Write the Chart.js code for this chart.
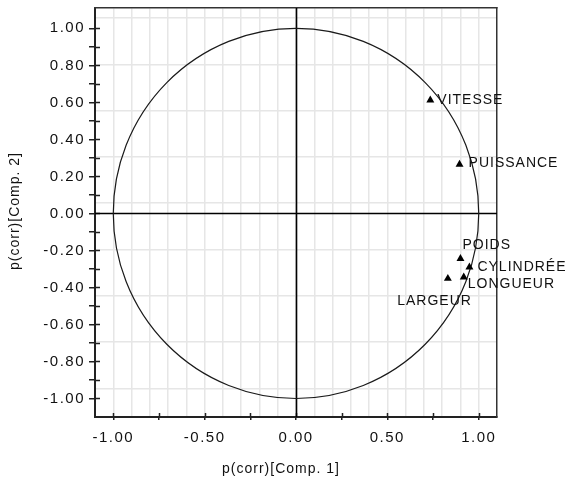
<!DOCTYPE html>
<html>
<head>
<meta charset="utf-8">
<script src="https://cdn.jsdelivr.net/npm/chart.js@4/dist/chart.umd.min.js"></script>
<style>
  html, body { margin: 0; padding: 0; background: #fff; }
  #wrap { width: 570px; height: 484px; }
</style>
</head>
<body>
<div id="wrap"><canvas id="c" width="570" height="484"></canvas></div>
<script>
// Loadings of each variable on the first two components
const variables = ['VITESSE', 'PUISSANCE', 'POIDS', 'CYLINDRÉE', 'LONGUEUR', 'LARGEUR'];
const comp1 = [0.735, 0.895, 0.900, 0.949, 0.918, 0.831];
const comp2 = [0.612, 0.265, -0.244, -0.290, -0.344, -0.352];

// Axis ticks (every tick gets a mark, labelled ones get text)
const xTickValues = [-1, -0.75, -0.5, -0.25, 0, 0.25, 0.5, 0.75, 1];
const xTickLabels = ['-1.00', '', '-0.50', '', '0.00', '', '0.50', '', '1.00'];
const yTickValues = [-1, -0.9, -0.8, -0.7, -0.6, -0.5, -0.4, -0.3, -0.2, -0.1, 0,
                     0.1, 0.2, 0.3, 0.4, 0.5, 0.6, 0.7, 0.8, 0.9, 1];
const yTickLabels = ['-1.00', '', '-0.80', '', '-0.60', '', '-0.40', '', '-0.20', '', '0.00',
                     '', '0.20', '', '0.40', '', '0.60', '', '0.80', '', '1.00'];

// Background grid lines
const gridXValues = [-1, -0.9, -0.8, -0.7, -0.6, -0.5, -0.4, -0.3, -0.2, -0.1, 0,
                     0.1, 0.2, 0.3, 0.4, 0.5, 0.6, 0.7, 0.8, 0.9, 1];
const gridYValues = [1.055, 0.805, 0.555, 0.305, 0.055, -0.195, -0.445, -0.695, -0.945];

const xTitle = 'p(corr)[Comp. 1]';
const yTitle = 'p(corr)[Comp. 2]';

const FONT = '"Liberation Sans", Arial, sans-serif';
const INK = '#111';

const labelFor = (values, labels) => v => {
  const i = values.findIndex(t => Math.abs(t - v) < 1e-9);
  return i >= 0 ? labels[i] : '';
};

const noPadding = s => {
  s.paddingTop = 0; s.paddingBottom = 0; s.paddingLeft = 0; s.paddingRight = 0;
};

// Dark frame, zero axes and the unit correlation circle
const framePlugin = {
  id: 'frame',
  beforeDraw(chart) {
    chart.ctx.letterSpacing = '1.5px';
  },
  beforeDatasetsDraw(chart) {
    const { ctx, chartArea: a, scales: { x, y } } = chart;
    const x0 = x.getPixelForValue(0), y0 = y.getPixelForValue(0);
    ctx.save();
    // inner halves of the tick marks
    ctx.strokeStyle = '#222';
    ctx.lineWidth = 1.5;
    ctx.beginPath();
    xTickValues.forEach(v => {
      const px = Math.round(x.getPixelForValue(v)) + 0.5;
      ctx.moveTo(px, a.bottom); ctx.lineTo(px, a.bottom - 4);
    });
    yTickValues.forEach(v => {
      const py = Math.round(y.getPixelForValue(v)) + 0.5;
      ctx.moveTo(a.left, py); ctx.lineTo(a.left + 5, py);
    });
    ctx.stroke();
    // zero axes
    ctx.strokeStyle = '#000';
    ctx.lineWidth = 1.6;
    ctx.beginPath();
    ctx.moveTo(Math.round(x0) + 0.5, a.top); ctx.lineTo(Math.round(x0) + 0.5, a.bottom);
    ctx.moveTo(a.left, Math.round(y0) + 0.5); ctx.lineTo(a.right, Math.round(y0) + 0.5);
    ctx.stroke();
    // circle of radius 1
    const rx = x.getPixelForValue(1) - x0;
    const ry = y0 - y.getPixelForValue(1);
    ctx.strokeStyle = '#1a1a1a';
    ctx.lineWidth = 1.2;
    ctx.beginPath();
    ctx.ellipse(x0, y0, rx, ry, 0, 0, Math.PI * 2);
    ctx.stroke();
    ctx.restore();
  },
  afterDatasetsDraw(chart) {
    const { ctx } = chart;
    const meta = chart.getDatasetMeta(0);
    const place = {
      'VITESSE':   { dx: 7,   dy: 0,   align: 'left' },
      'PUISSANCE': { dx: 9,   dy: -1,  align: 'left' },
      'POIDS':     { dx: 2,   dy: -13, align: 'left' },
      'CYLINDRÉE': { dx: 8,   dy: 0,   align: 'left' },
      'LONGUEUR':  { dx: 4,   dy: 7,   align: 'left' },
      'LARGEUR':   { dx: 24,  dy: 23,  align: 'right' }
    };
    ctx.save();
    ctx.font = '14px ' + FONT;
    ctx.letterSpacing = '1px';
    ctx.fillStyle = INK;
    ctx.textBaseline = 'middle';
    meta.data.forEach((pt, i) => {
      const p = place[variables[i]];
      ctx.textAlign = p.align;
      ctx.fillText(variables[i], pt.x + p.dx, pt.y + p.dy);
    });
    ctx.restore();
  },
  afterDraw(chart) {
    const { ctx } = chart;
    ctx.save();
    ctx.font = '14px ' + FONT;
    ctx.letterSpacing = '1px';
    ctx.fillStyle = INK;
    ctx.textAlign = 'center';
    ctx.textBaseline = 'middle';
    ctx.fillText(xTitle, 281, 469);
    ctx.translate(15, 211);
    ctx.rotate(-Math.PI / 2);
    ctx.fillText(yTitle, 0, 0);
    ctx.restore();
  }
};

new Chart(document.getElementById('c'), {
  type: 'scatter',
  data: {
    datasets: [{
      data: comp1.map((v, i) => ({ x: v, y: comp2[i] })),
      pointStyle: 'triangle',
      pointRadius: 4.6,
      pointHoverRadius: 4.6,
      backgroundColor: '#000',
      borderColor: '#000',
      borderWidth: 0
    }]
  },
  options: {
    responsive: false,
    devicePixelRatio: 1,
    animation: false,
    events: [],
    layout: { padding: { top: 8, right: 73, left: 0, bottom: 0 } },
    plugins: { legend: { display: false }, tooltip: { enabled: false } },
    scales: {
      x: {
        type: 'linear', position: 'bottom', min: -1.1, max: 1.1,
        afterBuildTicks: s => { s.ticks = xTickValues.map(v => ({ value: v })); },
        afterFit: s => { s.height = 67; noPadding(s); },
        grid: { drawOnChartArea: false, tickLength: 3, color: '#222', lineWidth: 1.5 },
        border: { display: true, color: '#222', width: 2 },
        ticks: {
          autoSkip: false, maxRotation: 0, padding: 9, color: INK,
          font: { family: FONT, size: 15 },
          callback: labelFor(xTickValues, xTickLabels)
        }
      },
      y: {
        type: 'linear', position: 'left', min: -1.1, max: 1.11,
        afterBuildTicks: s => { s.ticks = yTickValues.map(v => ({ value: v })); },
        afterFit: s => { s.width = 95; noPadding(s); },
        grid: { drawOnChartArea: false, tickLength: 6, color: '#222', lineWidth: 1.5 },
        border: { display: true, color: '#222', width: 2 },
        ticks: {
          autoSkip: false, padding: 4, color: INK,
          font: { family: FONT, size: 15 },
          callback: labelFor(yTickValues, yTickLabels)
        }
      },
      gx: {
        type: 'linear', axis: 'x', position: 'top', min: -1.1, max: 1.1,
        afterBuildTicks: s => { s.ticks = gridXValues.map(v => ({ value: v })); },
        afterFit: s => { s.height = 0; noPadding(s); },
        grid: { color: '#e6e6e6', lineWidth: 1.5, drawTicks: false },
        border: { display: true, color: '#333', width: 1.5 },
        ticks: { display: false }
      },
      gy: {
        type: 'linear', axis: 'y', position: 'right', min: -1.1, max: 1.11,
        afterBuildTicks: s => { s.ticks = gridYValues.map(v => ({ value: v })); },
        afterFit: s => { s.width = 0; noPadding(s); },
        grid: { color: '#e6e6e6', lineWidth: 1.5, drawTicks: false },
        border: { display: true, color: '#333', width: 1.5 },
        ticks: { display: false }
      }
    }
  },
  plugins: [framePlugin]
});
</script>
</body>
</html>
